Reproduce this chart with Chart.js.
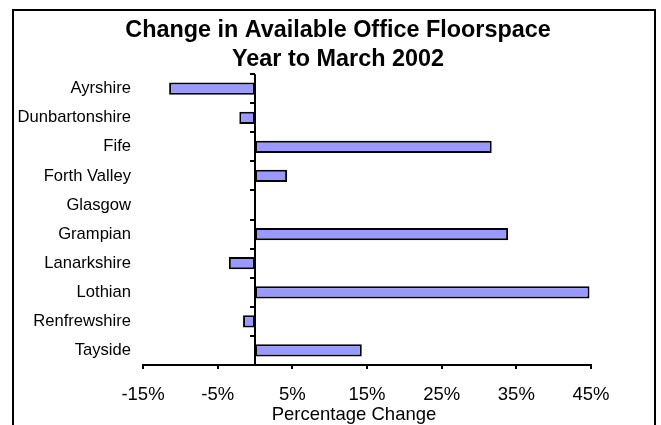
<!DOCTYPE html>
<html>
<head>
<meta charset="utf-8">
<title>Change in Available Office Floorspace</title>
<script src="https://cdn.jsdelivr.net/npm/chart.js@4"></script>
<style>
    html, body { margin: 0; padding: 0; background: #fff; }
    canvas { display: block; }
</style>
</head>
<body>
<canvas id="floorspaceChart" width="661" height="425"></canvas>
<script>
// 地域ごとの空きオフィス床面積の変化（％）
const regions = ['Ayrshire', 'Dunbartonshire', 'Fife', 'Forth Valley', 'Glasgow',
    'Grampian', 'Lanarkshire', 'Lothian', 'Renfrewshire', 'Tayside'];
const changePct = [-11.5, -2.1, 31.7, 4.3, 0, 33.9, -3.5, 44.8, -1.6, 14.3];
const xTicks = [-15, -5, 5, 15, 25, 35, 45];
const titleLines = ['Change in Available Office Floorspace', 'Year to March 2002'];
const axisTitle = 'Percentage Change';

document.addEventListener('DOMContentLoaded', function() {
    'use strict';
    initFloorspaceChart();
});

// 外枠・ゼロ軸・軸タイトルの描画
const framePlugin = {
    id: 'frame',
    beforeDraw(chart) {
        const ctx = chart.ctx;
        ctx.save();
        ctx.fillStyle = '#fff';
        ctx.fillRect(0, 0, chart.width, chart.height);
        ctx.strokeStyle = '#000';
        ctx.lineWidth = 2;
        ctx.strokeRect(13, 10, 642, 500);
        ctx.restore();
    },
    afterDatasetsDraw(chart) {
        const ctx = chart.ctx;
        const area = chart.chartArea;
        const x = chart.scales.x;
        const y = chart.scales.y;
        const x0 = Math.round(x.getPixelForValue(0));

        ctx.save();
        ctx.strokeStyle = '#000';
        ctx.lineWidth = 2;
        ctx.beginPath();
        ctx.moveTo(x0, area.top);
        ctx.lineTo(x0, area.bottom);
        // カテゴリ境界の目盛り
        for (let i = 0; i <= regions.length; i++) {
            const py = Math.round(y.getPixelForValue(i - 0.5));
            ctx.moveTo(x0, py);
            ctx.lineTo(x0 - 5, py);
        }
        ctx.stroke();

        ctx.fillStyle = '#000';
        ctx.font = '18.5px "Liberation Sans", Arial, sans-serif';
        ctx.textAlign = 'center';
        ctx.textBaseline = 'alphabetic';
        ctx.fillText(axisTitle, (area.left + area.right) / 2 - 13, 420);
        ctx.restore();
    }
};

function initFloorspaceChart() {
    const canvas = document.getElementById('floorspaceChart');
    if (!canvas || !window.Chart) return;

    Chart.defaults.font.family = '"Liberation Sans", Arial, sans-serif';
    Chart.defaults.color = '#000';

    new Chart(canvas.getContext('2d'), {
        type: 'bar',
        data: {
            labels: regions,
            datasets: [{
                data: changePct,
                backgroundColor: '#9999ff',
                borderColor: '#000',
                borderWidth: 2,
                borderSkipped: false,
                barPercentage: 0.42,
                categoryPercentage: 1
            }]
        },
        options: {
            indexAxis: 'y',
            responsive: false,
            animation: false,
            layout: {
                padding: { left: 15, right: 0, top: 13, bottom: 0 }
            },
            plugins: {
                legend: { display: false },
                tooltip: { enabled: false },
                title: {
                    display: true,
                    text: titleLines,
                    font: { size: 23.4, weight: 'bold', lineHeight: 1.2 },
                    padding: { top: 4, bottom: 1 }
                }
            },
            scales: {
                x: {
                    min: xTicks[0],
                    max: xTicks[xTicks.length - 1],
                    afterFit: (scale) => { scale.height = 60; },
                    afterBuildTicks: (scale) => {
                        scale.ticks = xTicks.map(v => ({ value: v }));
                    },
                    ticks: {
                        font: { size: 18.5 },
                        padding: 15,
                        maxRotation: 0,
                        callback: (v) => v + '%'
                    },
                    grid: {
                        drawOnChartArea: false,
                        drawTicks: true,
                        tickLength: 4,
                        color: '#000',
                        lineWidth: 2
                    },
                    border: { display: true, color: '#000', width: 2 }
                },
                y: {
                    afterFit: (scale) => { scale.width = 128; },
                    ticks: {
                        font: { size: 16.6 },
                        padding: 12,
                        autoSkip: false
                    },
                    grid: { display: false, drawTicks: false },
                    border: { display: false }
                },
                // 右側の余白用（表示なし）
                yRight: {
                    type: 'linear',
                    axis: 'y',
                    position: 'right',
                    afterFit: (scale) => { scale.width = 70; },
                    ticks: { display: false },
                    grid: { display: false, drawTicks: false },
                    border: { display: false }
                }
            }
        },
        plugins: [framePlugin]
    });
}
</script>
</body>
</html>
